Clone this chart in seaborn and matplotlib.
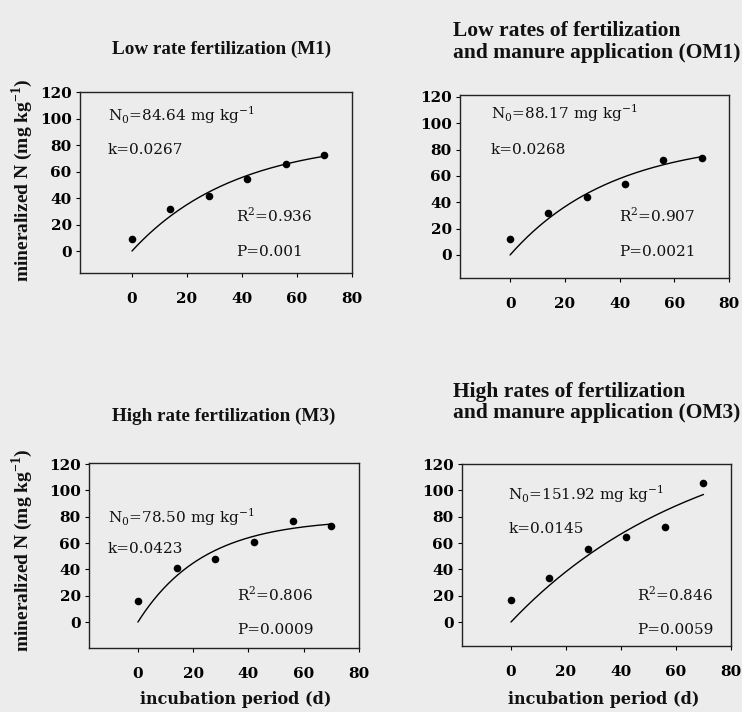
import numpy as np
import pandas as pd
import matplotlib
matplotlib.use("Agg")
import matplotlib.pyplot as plt
import seaborn as sns

sns.set_theme(style="white")
plt.rcParams["font.family"] = ["DejaVu Serif"]
plt.rcParams["mathtext.fontset"] = "custom"
plt.rcParams["mathtext.rm"] = "DejaVu Serif"
plt.rcParams["mathtext.bf"] = "Liberation Serif:bold"

# incubation days
days = [0, 14, 28, 42, 56, 70]

# measured mineralized N (mg kg-1)
m1_vals = [9.3, 31.6, 41.7, 54.3, 65.9, 72.8]
om1_vals = [12.1, 31.6, 44.2, 54.1, 72.0, 73.5]
m3_vals = [15.7, 41.3, 47.9, 60.9, 76.9, 73.3]
om3_vals = [16.7, 33.2, 55.6, 64.2, 72.3, 105.8]

# first-order model parameters and fit statistics
n0_vals = [84.64, 88.17, 78.50, 151.92]
k_vals = [0.0267, 0.0268, 0.0423, 0.0145]
r2_labels = ["0.936", "0.907", "0.806", "0.846"]
p_labels = ["0.001", "0.0021", "0.0009", "0.0059"]

titles = [
    ["Low rate fertilization (M1)"],
    ["Low rates of fertilization", "and manure application (OM1)"],
    ["High rate fertilization (M3)"],
    ["High rates of fertilization", "and manure application (OM3)"],
]
x_ticks = [0, 20, 40, 60, 80]
y_ticks = [0, 20, 40, 60, 80, 100, 120]

W, H = 742, 712
BG = "#ececec"
fig = plt.figure(figsize=(W / 100, H / 100), dpi=100, facecolor=BG)


def box(left, top, right, bottom):
    return [left / W, 1 - bottom / H, (right - left) / W, (bottom - top) / H]


# axes boxes in pixels: left, top, right, bottom
boxes = [
    (80, 92, 352, 273),
    (460, 95, 729, 278),
    (89, 463, 359, 648),
    (462, 464, 731, 646),
]
xlims = [(-18.9, 80), (-18.3, 80), (-17.7, 80), (-17.8, 80)]
ylims = [(-16.6, 120), (-17.5, 121.5), (-19.7, 120.8), (-18.2, 120)]

# text placement (data coordinates): N0/k x, N0 y, k y, R2/P x, R2 y, P y
text_pos = [
    (-8.8, 102.8, 76.3, 38.0, 26.5, -0.8),
    (-7.0, 107.4, 79.6, 39.9, 30.3, 2.5),
    (-11.0, 79.4, 55.3, 36.0, 21.0, -6.3),
    (-1.0, 96.9, 70.5, 46.0, 21.0, -6.3),
]

series = [m1_vals, om1_vals, m3_vals, om3_vals]
tick_font = dict(family="DejaVu Serif", weight="bold", size=11)

for i in range(4):
    ax = fig.add_axes(box(*boxes[i]))
    ax.set_facecolor(BG)
    df = pd.DataFrame({"day": days, "N": series[i]})
    t = np.linspace(0, 70, 200)
    fit = pd.DataFrame({"day": t, "N": n0_vals[i] * (1 - np.exp(-k_vals[i] * t))})
    sns.lineplot(data=fit, x="day", y="N", ax=ax, color="black", linewidth=1.0)
    sns.scatterplot(data=df, x="day", y="N", ax=ax, color="black", s=30,
                    edgecolor="black", linewidth=0, zorder=3)
    ax.set_xlim(*xlims[i])
    ax.set_ylim(*ylims[i])
    ax.set_xticks(x_ticks)
    ax.set_yticks(y_ticks)
    ax.set_xticklabels([str(v) for v in x_ticks], fontdict=tick_font)
    ax.set_yticklabels([str(v) for v in y_ticks], fontdict=tick_font)
    ax.tick_params(axis="x", direction="out", length=3, width=0.8, pad=11,
                   colors="black", bottom=True)
    ax.tick_params(axis="y", direction="out", length=3, width=0.8, pad=3,
                   colors="black", left=True)
    ax.set_xlabel("")
    ax.set_ylabel("")
    for sp in ax.spines.values():
        sp.set_color("#222222")
        sp.set_linewidth(1.0)

    tx, ny, ky, rx, ry, py = text_pos[i]
    afont = dict(family="DejaVu Serif", size=11, color="#111111", va="center")
    ax.text(tx, ny, r"N$_{\mathrm{0}}$=%.2f mg kg$^{\mathrm{-1}}$" % n0_vals[i], **afont)
    ax.text(tx, ky, "k=%.4f" % k_vals[i], **afont)
    ax.text(rx, ry, r"R$^{\mathrm{2}}$=" + r2_labels[i], **afont)
    ax.text(rx, py, "P=" + p_labels[i], **afont)

# panel headings
small_title = dict(family="Liberation Serif", weight="bold", size=13.8, color="#111111")
big_title = dict(family="Liberation Serif", weight="bold", size=15.5, color="#111111")
fig.text(222 / W, 1 - 49 / H, titles[0][0], ha="center", va="center", **small_title)
fig.text(224 / W, 1 - 416 / H, titles[2][0], ha="center", va="center", **small_title)
for line, y in zip(titles[1], (31, 53)):
    fig.text(453 / W, 1 - y / H, line, ha="left", va="center", **big_title)
for line, y in zip(titles[3], (392, 413)):
    fig.text(453 / W, 1 - y / H, line, ha="left", va="center", **big_title)

ylab = r"mineralized N (mg kg$^{\mathbf{-1}}$)"
lab_font = dict(family="Liberation Serif", weight="bold", size=14, color="#111111")
fig.text(22 / W, 1 - 180 / H, ylab, rotation=90, ha="center", va="center", **lab_font)
fig.text(22 / W, 1 - 550 / H, ylab, rotation=90, ha="center", va="center", **lab_font)

xl_font = dict(family="DejaVu Serif", weight="bold", size=11.5, color="#111111")
fig.text(236 / W, 1 - 700 / H, "incubation period (d)", ha="center", va="center", **xl_font)
fig.text(604 / W, 1 - 700 / H, "incubation period (d)", ha="center", va="center", **xl_font)

fig.savefig("out.png", dpi=100, facecolor=BG)
